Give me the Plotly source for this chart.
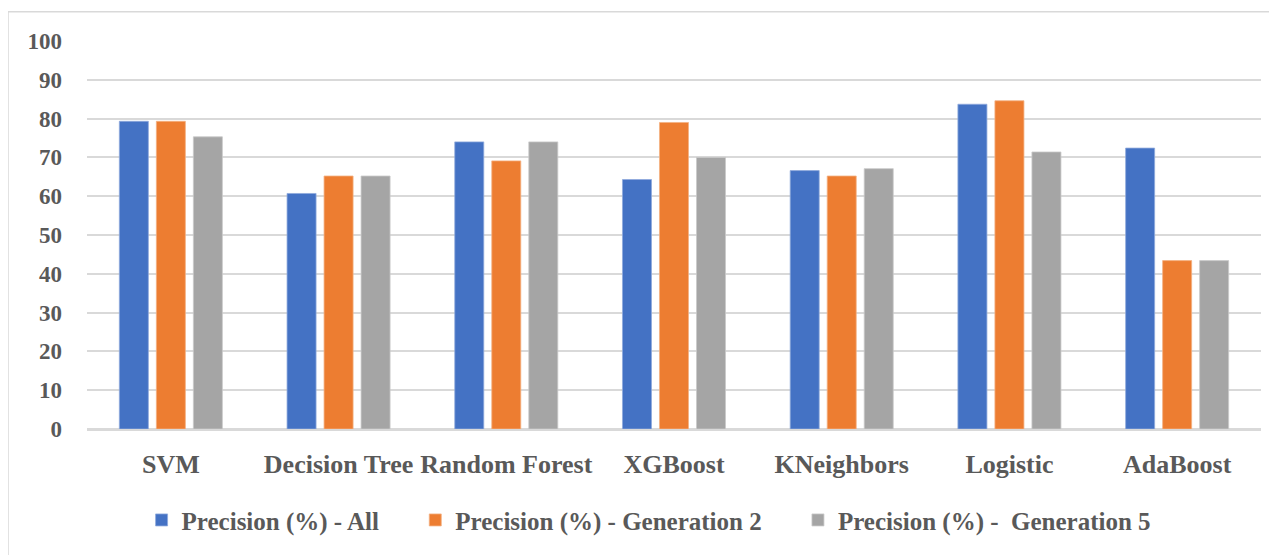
import plotly.graph_objects as go

categories = ["SVM", "Decision Tree", "Random Forest", "XGBoost", "KNeighbors", "Logistic", "AdaBoost"]
prec_all = [79.3, 60.7, 74.0, 64.3, 66.6, 83.7, 72.4]
prec_gen2 = [79.3, 65.2, 69.1, 79.0, 65.2, 84.6, 43.4]
prec_gen5 = [75.3, 65.2, 74.0, 70.0, 67.1, 71.4, 43.4]
series_names = ["Precision (%) - All", "Precision (%) - Generation 2", "Precision (%) -\u00a0 Generation 5"]
y_ticks = list(range(0, 101, 10))

colors = ["#4472C4", "#ED7D31", "#A5A5A5"]
edge = ["#8FAADC", "#F4B183", "#C9C9C9"]
font_family = "Liberation Serif"
text_color = "#595959"
pad = "\u00a0" * 5

fig = go.Figure()
for i, (name, vals, c, e) in enumerate(zip(series_names, [prec_all, prec_gen2, prec_gen5], colors, edge)):
    label = name + (pad if i < 2 else "")
    fig.add_trace(go.Bar(x=categories, y=vals, name=label,
                         marker=dict(color=c, line=dict(color=e, width=0.8))))

fig.update_layout(
    width=1269, height=547,
    margin=dict(l=79, r=16, t=33, b=126),
    paper_bgcolor="white", plot_bgcolor="white",
    barmode="group", bargap=0.338, bargroupgap=0.216,
    font=dict(family=font_family, size=23, color=text_color),
    legend=dict(orientation="h", x=0.0465, xanchor="left", y=-0.235, yanchor="middle",
                font=dict(family=font_family, size=25, color=text_color, weight="bold"),
                traceorder="normal"),
    xaxis=dict(showgrid=False, showline=True, linecolor="#D9D9D9", linewidth=1.5,
               tickfont=dict(family=font_family, size=26, color=text_color, weight="bold"),
               ticks="", ticklabelstandoff=11),
    yaxis=dict(range=[0, 100], tickvals=y_ticks, showgrid=True, gridcolor="#D9D9D9", gridwidth=1.5,
               zeroline=True, zerolinecolor="#D9D9D9", zerolinewidth=1.5,
               tickfont=dict(family=font_family, size=23, color=text_color, weight="bold"),
               ticks="", ticklabelstandoff=24),
    shapes=[dict(type="rect", xref="paper", yref="paper", x0=(0 - 79) / 1174, x1=1.2,
                 y0=-0.6, y1=(421.3 - 4) / 388,
                 line=dict(color="#D9D9D9", width=1.5), fillcolor="rgba(0,0,0,0)", layer="below")],
)

fig.write_html("out.html")
